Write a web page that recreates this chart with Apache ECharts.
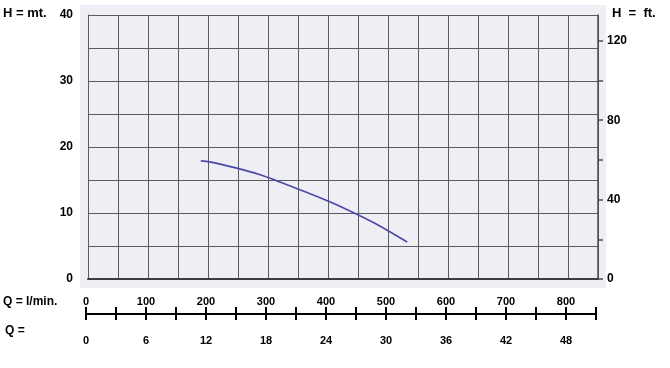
<!DOCTYPE html>
<html>
<head>
<meta charset="UTF-8">
<script src="https://cdn.jsdelivr.net/npm/echarts@6/dist/echarts.min.js"></script>
<style>
html,body{margin:0;padding:0;background:#fff;}
#chart{width:670px;height:368px;}
</style>
</head>
<body>
<div id="chart"></div>
<script>
// pump curve: Q in l/min, H in metres
var flowLmin = [188, 203, 248, 287, 320, 365, 403, 448, 487, 532];
var headM    = [17.9, 17.75, 16.8, 15.8, 14.7, 13.1, 11.7, 9.8, 8.0, 5.6];

// tick labels
var mLabels    = [0, 10, 20, 30, 40];
var ftTicks    = [0, 20, 40, 60, 80, 100, 120];
var ftLabels   = [0, 40, 80, 120];
var lminLabels = [0, 100, 200, 300, 400, 500, 600, 700, 800];
var m3hLabels  = [0, 6, 12, 18, 24, 30, 36, 42, 48];

var curve = [];
for (var i = 0; i < flowLmin.length; i++) {
    curve.push([flowLmin[i], headM[i]]);
}

var fontBold = {fontFamily: 'Liberation Sans, Arial, sans-serif', fontWeight: 'bold', color: '#000'};
var gridLine = '#5a5a62';

var myChart = echarts.init(document.getElementById('chart'));
var option = {
    animation: false,
    backgroundColor: '#fff',
    graphic: [
        {type: 'rect', z: -10, silent: true, shape: {x: 80, y: 5, width: 526, height: 283}, style: {fill: '#eeeef4'}},
        {type: 'text', left: 3, top: 7, style: {text: 'H = mt.', font: 'bold 13px Liberation Sans, Arial', fill: '#000'}},
        {type: 'text', left: 612, top: 7, style: {text: 'H  =  ft.', font: 'bold 13px Liberation Sans, Arial', fill: '#000'}},
        {type: 'text', left: 3, top: 296, style: {text: 'Q = l/min.', font: 'bold 12px Liberation Sans, Arial', fill: '#000'}},
        {type: 'text', left: 5, top: 325, style: {text: 'Q =', font: 'bold 12px Liberation Sans, Arial', fill: '#000'}}
    ],
    grid: [
        {left: 88, top: 15, width: 510, height: 264},
        {left: 86, top: 313, width: 510, height: 1}
    ],
    xAxis: [
        {
            gridIndex: 0, type: 'value', min: 0, max: 850, interval: 50,
            axisLine: {show: true, lineStyle: {color: '#3c3c44', width: 2}},
            axisTick: {show: false},
            axisLabel: {show: false},
            splitLine: {show: true, lineStyle: {color: gridLine, width: 1}}
        },
        {
            gridIndex: 1, type: 'value', position: 'top', min: 0, max: 850, interval: 50,
            axisLine: {show: true, lineStyle: {color: '#000', width: 2}},
            axisTick: {show: true, length: 7, lineStyle: {color: '#000', width: 2}},
            axisLabel: Object.assign({show: true, fontSize: 11, margin: 6, customValues: lminLabels}, fontBold),
            splitLine: {show: false}
        },
        {
            gridIndex: 1, type: 'value', position: 'bottom', min: 0, max: 850, interval: 50,
            axisLine: {show: true, lineStyle: {color: '#000', width: 2}},
            axisTick: {show: true, length: 6, lineStyle: {color: '#000', width: 2}},
            axisLabel: Object.assign({
                show: true, fontSize: 11, margin: 21, customValues: lminLabels,
                formatter: function (v) { return String(m3hLabels[lminLabels.indexOf(v)]); }
            }, fontBold),
            splitLine: {show: false}
        }
    ],
    yAxis: [
        {
            gridIndex: 0, type: 'value', position: 'left', min: 0, max: 40, interval: 5,
            axisLine: {show: true, lineStyle: {color: gridLine}},
            axisTick: {show: false},
            axisLabel: Object.assign({fontSize: 12, margin: 15, customValues: mLabels}, fontBold),
            splitLine: {show: true, lineStyle: {color: gridLine, width: 1}}
        },
        {
            gridIndex: 0, type: 'value', position: 'right', min: 0, max: 133,
            axisLine: {show: true, lineStyle: {color: '#4c4c54', width: 1.5}},
            axisTick: {show: true, length: 5, customValues: ftTicks, lineStyle: {color: '#4c4c54', width: 1.5}},
            axisLabel: Object.assign({fontSize: 12, margin: 9, customValues: ftLabels}, fontBold),
            splitLine: {show: false}
        },
        {
            gridIndex: 1, type: 'value', show: false
        }
    ],
    series: [{
        name: 'H',
        type: 'line',
        xAxisIndex: 0,
        yAxisIndex: 0,
        smooth: 0.3,
        showSymbol: false,
        lineStyle: {color: '#4a4aa6', width: 1.6},
        data: curve
    }]
};
myChart.setOption(option);
</script>
</body>
</html>
